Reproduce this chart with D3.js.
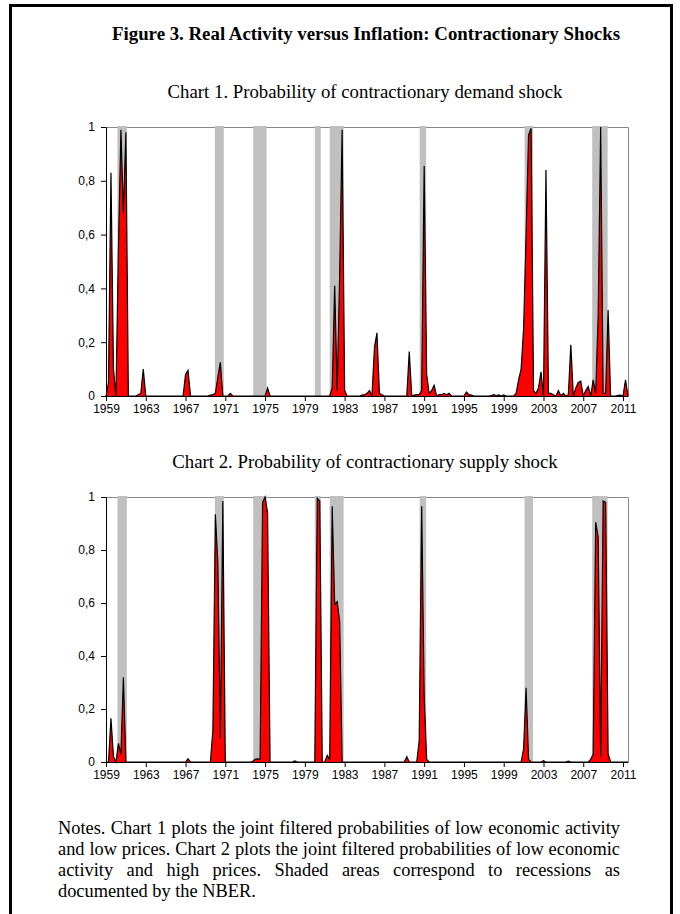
<!DOCTYPE html>
<html>
<head>
<meta charset="utf-8">
<script src="https://cdn.jsdelivr.net/npm/d3@7"></script>
<style>
  body { margin: 0; background: #fff; }
  #wrap { position: relative; width: 680px; height: 914px; overflow: hidden; }
  #notes {
    position: absolute; left: 58px; top: 818px; width: 562px;
    font-family: "Liberation Serif", "Times New Roman", serif;
    font-size: 16px; line-height: 21px; color: #000;
  }
  #notes .j { text-align: justify; text-align-last: justify; }
</style>
</head>
<body>
<div id="wrap">
  <svg id="fig" width="680" height="914"></svg>
  <div id="notes">
    <div class="j">Notes. Chart 1 plots the joint filtered probabilities of low economic activity</div>
    <div class="j">and low prices. Chart 2 plots the joint filtered probabilities of low economic</div>
    <div class="j">activity and high prices. Shaded areas correspond to recessions as</div>
    <div>documented by the NBER.</div>
  </div>
</div>
<script>
// quarterly probabilities, one row per year (Q1..Q4)
const years = [1959, 1960, 1961, 1962, 1963, 1964, 1965, 1966, 1967, 1968,
  1969, 1970, 1971, 1972, 1973, 1974, 1975, 1976, 1977, 1978,
  1979, 1980, 1981, 1982, 1983, 1984, 1985, 1986, 1987, 1988,
  1989, 1990, 1991, 1992, 1993, 1994, 1995, 1996, 1997, 1998,
  1999, 2000, 2001, 2002, 2003, 2004, 2005, 2006, 2007, 2008,
  2009, 2010, 2011];

const demand = [
  [0, 0.05, 0.83, 0.1],        // 1959
  [0, 0.55, 0.99, 0.68],       // 1960
  [0.98, 0, 0, 0],             // 1961
  [0, 0.005, 0.01, 0.1],       // 1962
  [0, 0, 0, 0],                // 1963
  [0, 0, 0, 0],                // 1964
  [0, 0, 0, 0],                // 1965
  [0, 0, 0, 0],                // 1966
  [0.08, 0.095, 0, 0],         // 1967
  [0, 0, 0, 0],                // 1968
  [0, 0, 0.003, 0.005],        // 1969
  [0.01, 0.07, 0.125, 0],      // 1970
  [0, 0, 0.01, 0],             // 1971
  [0, 0, 0, 0],                // 1972
  [0, 0, 0, 0],                // 1973
  [0, 0, 0, 0],                // 1974
  [0, 0.03, 0, 0],             // 1975
  [0, 0, 0, 0],                // 1976
  [0, 0, 0, 0],                // 1977
  [0, 0, 0, 0],                // 1978
  [0, 0, 0, 0],                // 1979
  [0, 0, 0, 0],                // 1980
  [0, 0, 0, 0.03],             // 1981
  [0.41, 0.02, 0.45, 0.99],    // 1982
  [0.02, 0, 0, 0],             // 1983
  [0, 0, 0, 0.003],            // 1984
  [0.005, 0.01, 0.02, 0],      // 1985
  [0.18, 0.235, 0.01, 0.005],  // 1986
  [0, 0, 0, 0],                // 1987
  [0, 0, 0, 0],                // 1988
  [0, 0, 0.165, 0],            // 1989
  [0.003, 0.005, 0.005, 0.02], // 1990
  [0.855, 0.08, 0.01, 0.02],   // 1991
  [0.04, 0, 0.005, 0.005],     // 1992
  [0.01, 0.005, 0.01, 0],      // 1993
  [0, 0, 0, 0],                // 1994
  [0, 0.015, 0.005, 0.003],    // 1995
  [0, 0, 0, 0],                // 1996
  [0, 0, 0, 0.002],            // 1997
  [0.005, 0.002, 0.004, 0],    // 1998
  [0.004, 0, 0, 0],            // 1999
  [0, 0.01, 0.06, 0.1],        // 2000
  [0.25, 0.6, 0.97, 0.995],    // 2001
  [0.02, 0.01, 0.03, 0.09],    // 2002
  [0, 0.84, 0.01, 0.01],       // 2003
  [0.005, 0, 0.02, 0],         // 2004
  [0.01, 0, 0.005, 0.19],      // 2005
  [0, 0.03, 0.05, 0.055],      // 2006
  [0, 0.02, 0.035, 0],         // 2007
  [0.06, 0.01, 0.3, 1.0],      // 2008
  [0.01, 0.01, 0.32, 0],       // 2009
  [0, 0, 0.002, 0.003],        // 2010
  [0, 0.06, 0]                 // 2011
];

const supply = [
  [0, 0, 0.165, 0.02],         // 1959
  [0, 0.07, 0.03, 0.32],       // 1960
  [0, 0, 0, 0],                // 1961
  [0, 0, 0, 0],                // 1962
  [0, 0, 0, 0],                // 1963
  [0, 0, 0, 0],                // 1964
  [0, 0, 0, 0],                // 1965
  [0, 0, 0, 0],                // 1966
  [0, 0.012, 0, 0],            // 1967
  [0, 0, 0, 0],                // 1968
  [0, 0, 0, 0.12],             // 1969
  [0.935, 0.75, 0.09, 0.985],  // 1970
  [0, 0, 0, 0],                // 1971
  [0, 0, 0, 0],                // 1972
  [0, 0, 0, 0.002],            // 1973
  [0.01, 0.012, 0.01, 0.98],   // 1974
  [1.0, 0.94, 0, 0],           // 1975
  [0, 0, 0, 0],                // 1976
  [0, 0, 0, 0],                // 1977
  [0.004, 0, 0, 0],            // 1978
  [0, 0, 0, 0],                // 1979
  [0, 0.995, 0.985, 0],        // 1980
  [0, 0.025, 0.01, 0.965],     // 1981
  [0.595, 0.605, 0.53, 0],     // 1982
  [0, 0, 0, 0],                // 1983
  [0, 0, 0, 0],                // 1984
  [0, 0, 0, 0],                // 1985
  [0, 0, 0, 0],                // 1986
  [0, 0, 0, 0],                // 1987
  [0, 0, 0, 0],                // 1988
  [0, 0.02, 0, 0],             // 1989
  [0, 0, 0.08, 0.965],         // 1990
  [0.25, 0.01, 0, 0],          // 1991
  [0, 0, 0, 0],                // 1992
  [0, 0, 0, 0],                // 1993
  [0, 0, 0, 0],                // 1994
  [0, 0, 0, 0],                // 1995
  [0, 0, 0, 0],                // 1996
  [0, 0, 0, 0],                // 1997
  [0, 0, 0, 0],                // 1998
  [0, 0, 0, 0],                // 1999
  [0, 0, 0, 0],                // 2000
  [0.05, 0.28, 0.01, 0],       // 2001
  [0, 0, 0, 0],                // 2002
  [0.005, 0, 0, 0],            // 2003
  [0, 0, 0, 0],                // 2004
  [0, 0, 0.003, 0],            // 2005
  [0, 0, 0, 0],                // 2006
  [0, 0, 0, 0.01],             // 2007
  [0.03, 0.905, 0.85, 0.02],   // 2008
  [0.985, 0.98, 0.03, 0],      // 2009
  [0, 0, 0, 0],                // 2010
  [0, 0, 0]                    // 2011
];

// NBER recessions (start, end) in fractional years
const recessions = [[1960.15, 1961.1], [1969.95, 1970.85], [1973.8, 1975.15],
  [1980.0, 1980.6], [1981.5, 1982.9], [1990.55, 1991.2], [2001.1, 2001.95],
  [2007.9, 2009.45]];

const xTicks = [1959, 1963, 1967, 1971, 1975, 1979, 1983, 1987, 1991, 1995, 1999, 2003, 2007, 2011];
const yTicks = [0, 0.2, 0.4, 0.6, 0.8, 1];

const figTitle = "Figure 3. Real Activity versus Inflation: Contractionary Shocks";
const chartTitles = ["Chart 1. Probability of contractionary demand shock",
  "Chart 2. Probability of contractionary supply shock"];

function toPoints(rows) {
  let pts = [];
  rows.forEach((row, i) => {
    row.forEach((v, q) => pts.push({t: years[i] + q / 4, v: v}));
  });
  return pts;
}

// scale a text's font so it spans the given width
function fitText(sel, width) {
  sel.style("font-size", "100px");
  let w = sel.node().getComputedTextLength();
  sel.style("font-size", (100 * width / w).toFixed(2) + "px");
  return 100 * width / w;
}

const svg = d3.select("#fig");
const serif = "'Liberation Serif', 'Times New Roman', serif";
const sans = "'Liberation Sans', Arial, sans-serif";

// outer frame
svg.append("rect")
  .attr("x", 10.5).attr("y", 5.5)
  .attr("width", 661).attr("height", 940)
  .attr("fill", "none").attr("stroke", "#000").attr("stroke-width", 3);

let titleText = svg.append("text")
  .attr("x", 366).attr("y", 40)
  .attr("text-anchor", "middle")
  .style("font-family", serif).style("font-weight", "bold")
  .text(figTitle);
fitText(titleText, 508);

const x = d3.scaleLinear().domain([1959, 2011.5]).range([106, 628]);
let subSize = null;

function drawChart(series, title, top, bottom) {
  let y = d3.scaleLinear().domain([0, 1]).range([bottom, top]);
  let g = svg.append("g");

  let sub = g.append("text")
    .attr("x", 365).attr("y", top - 29)
    .attr("text-anchor", "middle")
    .style("font-family", serif)
    .text(title);
  if (subSize === null) subSize = fitText(sub, 395);
  else sub.style("font-size", subSize.toFixed(2) + "px");

  // top/right plot border
  g.append("path")
    .attr("d", `M${x.range()[0]},${top + 0.5}H${x.range()[1] + 0.5}V${bottom}`)
    .attr("fill", "none").attr("stroke", "#868686").attr("stroke-width", 1);

  g.selectAll(".band").data(recessions).join("rect")
    .attr("class", "band")
    .attr("x", d => x(d[0]))
    .attr("width", d => x(d[1]) - x(d[0]))
    .attr("y", top - 1)
    .attr("height", bottom - top + 1)
    .attr("fill", "#c0c0c0");

  let pts = toPoints(series);

  g.append("path")
    .datum(pts)
    .attr("fill", "#ff0000")
    .attr("d", d3.area().x(d => x(d.t)).y0(y(0)).y1(d => y(d.v)));

  g.append("path")
    .datum(pts)
    .attr("fill", "none").attr("stroke", "#000").attr("stroke-width", 1.2)
    .attr("d", d3.line().x(d => x(d.t)).y(d => y(d.v)));

  let yAxis = g.append("g")
    .attr("transform", `translate(${x.range()[0]},0)`)
    .call(d3.axisLeft(y).tickValues(yTicks).tickSize(5).tickSizeOuter(0).tickPadding(6)
      .tickFormat(d => String(d).replace(".", ",")));

  let xAxis = g.append("g")
    .attr("transform", `translate(0,${bottom})`)
    .call(d3.axisBottom(x).tickValues(xTicks).tickSize(5).tickSizeOuter(0).tickPadding(3)
      .tickFormat(d3.format("d")));

  [yAxis, xAxis].forEach(a => {
    a.selectAll("path, line").attr("stroke", "#000");
    a.selectAll("text").style("font-family", sans).style("font-size", "12px").attr("fill", "#000");
  });
}

drawChart(demand, chartTitles[0], 127, 396);
drawChart(supply, chartTitles[1], 497, 762);

// notes: size the font so the first line fills the column naturally
const ctx = document.createElement("canvas").getContext("2d");
ctx.font = "100px 'Liberation Serif'";
const firstLine = document.querySelector("#notes .j").textContent;
const noteSize = 100 * 554 / ctx.measureText(firstLine).width;
d3.select("#notes").style("font-size", noteSize.toFixed(2) + "px");
</script>
</body>
</html>
